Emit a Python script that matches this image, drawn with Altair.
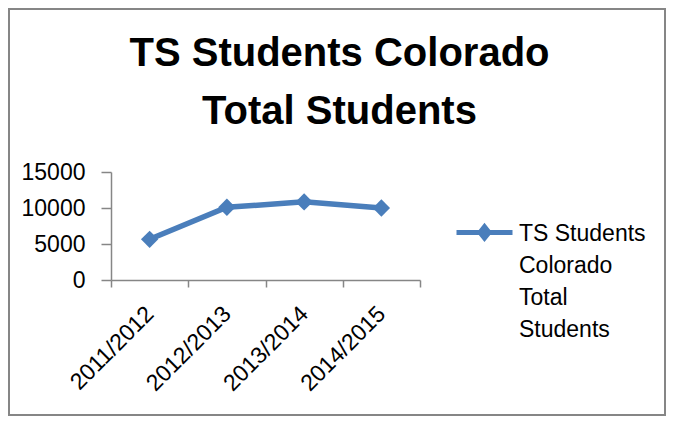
import json
import altair as alt
import pandas as pd

# ---- data ----
years = ["2011/2012", "2012/2013", "2013/2014", "2014/2015"]
students = [5650, 10100, 10850, 10000]
series_name = "TS Students Colorado Total Students"
legend_lines = ["TS Students", "Colorado", "Total", "Students"]
title_lines = ["TS Students Colorado", "Total Students"]
y_ticks = [0, 5000, 10000, 15000]

df = pd.DataFrame({"year": years, "students": students, "series": [series_name] * len(years)})
frame_df = pd.DataFrame({"k": [0]})

BLUE = "#4A7EBB"
GRAY = "#868686"
FONT = "Liberation Sans"

W, H = 309, 108

x_enc = alt.X(
    "year:N",
    sort=years,
    title=None,
    scale=alt.Scale(type="band", paddingInner=0, paddingOuter=0),
    axis=alt.Axis(
        labelAngle=-45,
        labelBaseline="middle",
        labelAlign="right",
        tickBand="extent",
        tickSize=7,
        tickColor=GRAY,
        tickWidth=1.5,
        domainColor=GRAY,
        domainWidth=1.5,
        labelFont=FONT,
        labelFontSize=23,
        labelColor="black",
        labelPadding=23,
        grid=False,
    ),
)
y_enc = alt.Y(
    "students:Q",
    title=None,
    scale=alt.Scale(domain=[0, 15000], nice=False),
    axis=alt.Axis(
        values=y_ticks,
        format="d",
        tickSize=10,
        tickColor=GRAY,
        tickWidth=1.5,
        domainColor=GRAY,
        domainWidth=1.5,
        labelFont=FONT,
        labelFontSize=23,
        labelColor="black",
        labelPadding=16,
        grid=False,
    ),
)

legend_symbol = (
    "M-1,-0.29 L1,-0.29 "
    "M0,-0.49 L0.16,-0.29 L0,-0.09 L-0.16,-0.29 Z"
)

line = alt.Chart(df).mark_line(strokeWidth=5.5).encode(
    x=x_enc,
    y=y_enc,
    color=alt.Color(
        "series:N",
        scale=alt.Scale(range=[BLUE]),
        legend=alt.Legend(
            orient="none",
            legendX=343,
            legendY=38,
            title=None,
            padding=0,
            symbolType=legend_symbol,
            symbolSize=3136,
            symbolFillColor=BLUE,
            symbolStrokeColor=BLUE,
            symbolStrokeWidth=5,
            symbolOpacity=1,
            labelExpr=json.dumps(legend_lines),
            labelFont=FONT,
            labelFontSize=23,
            labelColor="black",
            labelBaseline="alphabetic",
            labelLimit=400,
            labelOffset=4,
        ),
    ),
)

points = alt.Chart(df).mark_point(
    shape="diamond", filled=True, size=300, opacity=1, color=BLUE
).encode(x=x_enc, y=y_enc)

frame = alt.Chart(frame_df).mark_rect(
    filled=False, stroke=GRAY, strokeWidth=2
).encode(
    x=alt.value(-102), x2=alt.value(554), y=alt.value(-163), y2=alt.value(243)
)

chart = (
    alt.layer(frame, line, points)
    .properties(
        width=W,
        height=H,
        title=alt.Title(
            title_lines,
            font=FONT,
            fontSize=40,
            fontWeight="bold",
            color="black",
            anchor="middle",
            dx=74,
            dy=128,
            lineHeight=58,
        ),
        autosize=alt.AutoSizeParams(type="none"),
        padding={"left": 103, "top": 164, "right": 246, "bottom": 136},
    )
    .configure(font=FONT, background="white", style={"guide-label": {"lineHeight": 32}})
    .configure_view(stroke=None)
)

chart.save("out.html", embed_options={"renderer": "svg", "actions": False})
